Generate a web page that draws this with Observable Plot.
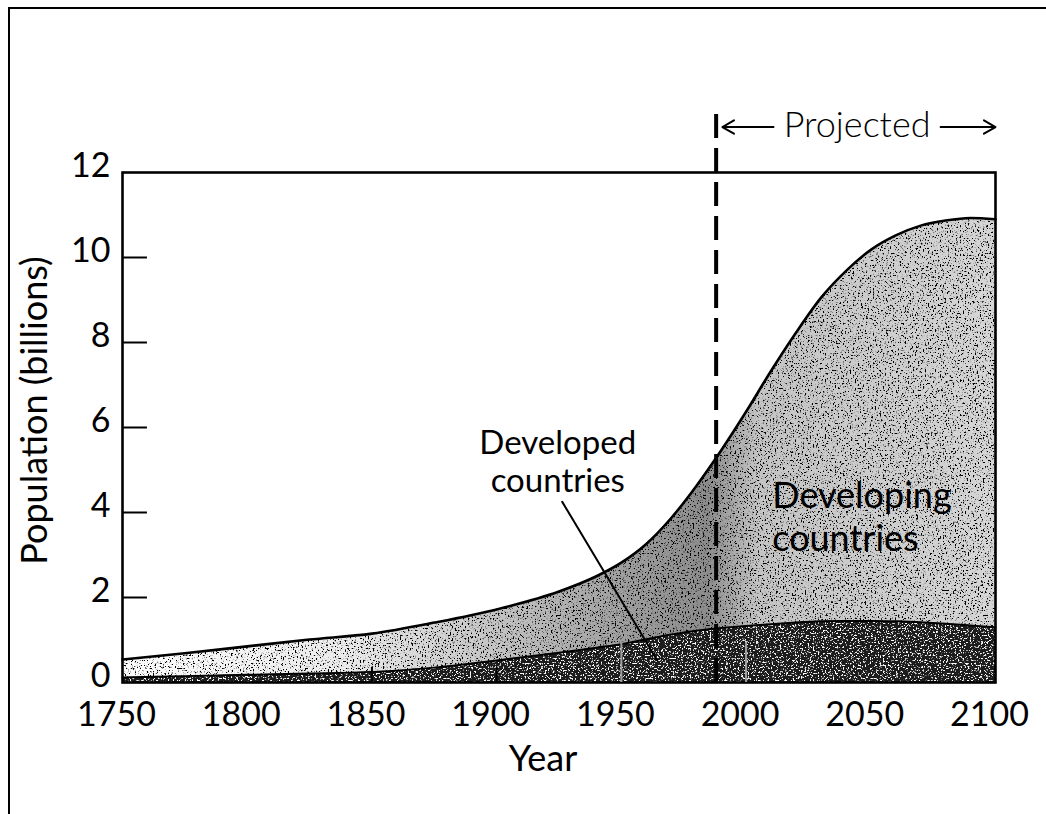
<!DOCTYPE html>
<html><head><meta charset="utf-8">
<script src="https://cdn.jsdelivr.net/npm/d3@7"></script>
<script src="https://cdn.jsdelivr.net/npm/@observablehq/plot@0.6"></script>
<style>
html,body{margin:0;padding:0;background:#fff;}
#page{position:relative;width:1046px;height:814px;overflow:hidden;background:#fff;}
#border{position:absolute;left:8px;top:7px;right:-4px;bottom:-4px;border-top:2px solid #000;border-left:2px solid #000;}
#chart{position:absolute;left:0;top:0;}
</style></head><body>
<div id="page"><div id="border"></div><div id="chart"></div></div>
<script>
// ---- data ----
const years     = [1750, 1775, 1800, 1825, 1850, 1875, 1900, 1925, 1940, 1950, 1960, 1970, 1980, 1990, 2000, 2010, 2020, 2030, 2040, 2050, 2060, 2070, 2080, 2090, 2100];
const total     = [0.54, 0.69, 0.85, 1.01, 1.15, 1.41, 1.72, 2.14, 2.50, 2.82, 3.26, 3.87, 4.62, 5.46, 6.37, 7.33, 8.23, 9.05, 9.68, 10.18, 10.52, 10.75, 10.87, 10.93, 10.90];
const developed = [0.12, 0.15, 0.18, 0.21, 0.25, 0.35, 0.52, 0.70, 0.82, 0.90, 1.02, 1.13, 1.22, 1.28, 1.33, 1.37, 1.41, 1.44, 1.45, 1.45, 1.44, 1.42, 1.38, 1.34, 1.30];
const xTicks = [1750, 1800, 1850, 1900, 1950, 2000, 2050, 2100];
const yTicks = [0, 2, 4, 6, 8, 10, 12];
const innerYTicks = [2, 4, 6, 8, 10];
const innerXTicks = [1850, 1900];
const innerXTicksLight = [1950, 2000];
const projectedYear = 1988;
const labels = {
  xTitle: "Year",
  yTitle: "Population (billions)",
  projected: "Projected",
  developed: "Developed\ncountries",
  developing: "Developing\ncountries"
};

const rows = years.map((year, i) => ({year, total: total[i], developed: developed[i]}));
const curve = "monotone-x";
const FONT = "Lato, 'Open Sans', sans-serif";

const chart = Plot.plot({
  width: 1046,
  height: 814,
  marginLeft: 122,
  marginRight: 51,
  marginTop: 172,
  marginBottom: 132,
  style: {fontFamily: FONT, background: "transparent", color: "#000"},
  x: {domain: [1750, 2100]},
  y: {domain: [0, 12]},
  marks: [
    Plot.areaY(rows, {x: "year", y1: "developed", y2: "total", fill: "url(#devgrad)", curve}),
    Plot.areaY(rows, {x: "year", y1: 0, y2: "developed", fill: "#1e1e1e", curve}),
    Plot.line(rows, {x: "year", y: "total", stroke: "#000", strokeWidth: 2.6, curve}),
    Plot.line(rows, {x: "year", y: "developed", stroke: "#000", strokeWidth: 2, curve}),
    Plot.frame({stroke: "#000", strokeWidth: 2.6}),
    Plot.axisX({ticks: xTicks, tickFormat: d => String(d), tickSize: 0, tickPadding: 19, fontSize: 34, label: null, dx: -6}),
    Plot.axisY({ticks: yTicks, tickFormat: d => String(d), tickSize: 0, tickPadding: 12, fontSize: 34, label: null, dy: -6}),
    // inward tick marks
    Plot.ruleY(innerYTicks, {y: d => d, x1: 1750, x2: 1760, stroke: "#000", strokeWidth: 2}),
    Plot.ruleX(innerXTicks, {x: d => d, y1: 0, y2: 0.36, stroke: "#000", strokeWidth: 2}),
    Plot.ruleX(innerXTicksLight, {x: d => d, y1: 0, y2: 0.95, stroke: "#a0a0a0", strokeWidth: 2}),
    Plot.ruleX([projectedYear], {y1: 0, y2: 13.45, stroke: "#000", strokeWidth: 4, strokeDasharray: "24,10"}),
    Plot.arrow([{x1: 2011, x2: 1990.5, y: 13.07}], {x1: "x1", x2: "x2", y1: "y", y2: "y", stroke: "#000", strokeWidth: 2, headLength: 10}),
    Plot.arrow([{x1: 2078, x2: 2100, y: 13.07}], {x1: "x1", x2: "x2", y1: "y", y2: "y", stroke: "#000", strokeWidth: 2, headLength: 10}),
    Plot.text([labels.projected], {x: 2044.5, y: 13.1, fontSize: 36, fontWeight: 300}),
    Plot.text([labels.developed], {x: 1924.5, y: 5.22, fontSize: 33, lineHeight: 1.14}),
    Plot.line([{x: 1926.3, y: 4.25}, {x: 1964.4, y: 0.52}], {x: "x", y: "y", stroke: "#000", strokeWidth: 2}),
    Plot.text([labels.developing], {x: 2010.5, y: 3.92, textAnchor: "start", fontSize: 36, lineHeight: 1.2}),
    Plot.text([labels.xTitle], {frameAnchor: "bottom", dy: 88, dx: -16, fontSize: 36}),
    Plot.text([labels.yTitle], {x: 1750, y: 6.4, dx: -87, rotate: -90, textAnchor: "middle", fontSize: 36})
  ]
});

// shading + stipple texture for the filled bands (built from the x scale)
const xs = chart.scale("x");
const svg = d3.select(chart);
const defs = svg.insert("defs", ":first-child");
const grad = defs.append("linearGradient")
  .attr("id", "devgrad")
  .attr("gradientUnits", "userSpaceOnUse")
  .attr("x1", xs.apply(1750)).attr("x2", xs.apply(2100))
  .attr("y1", 0).attr("y2", 0);
[[1750, "#fdfdfd"], [1840, "#ebebeb"], [1900, "#c4c4c4"], [1955, "#9c9c9c"], [1985, "#8c8c8c"], [2005, "#c4c4c4"], [2100, "#d6d6d6"]]
  .forEach(([yr, c]) => grad.append("stop").attr("offset", (yr - 1750) / 350).attr("stop-color", c));

function stipple(id, rgb, a, b, seed) {
  const f = defs.append("filter").attr("id", id);
  f.append("feTurbulence").attr("type", "fractalNoise").attr("baseFrequency", 0.6).attr("numOctaves", 2).attr("seed", seed).attr("result", "n");
  f.append("feColorMatrix").attr("in", "n").attr("type", "matrix")
    .attr("values", `0 0 0 0 ${rgb}  0 0 0 0 ${rgb}  0 0 0 0 ${rgb}  ${a} 0 0 0 ${b}`).attr("result", "dots");
  f.append("feComposite").attr("in", "dots").attr("in2", "SourceAlpha").attr("operator", "in").attr("result", "clip");
  const m = f.append("feMerge");
  m.append("feMergeNode").attr("in", "SourceGraphic");
  m.append("feMergeNode").attr("in", "clip");
}
stipple("stippleDark", 0, -9, 3.9, 3);
stipple("stippleLight", 1, -9, 3.8, 11);
svg.selectAll('[fill="url(#devgrad)"]').attr("filter", "url(#stippleDark)");
svg.selectAll('[fill="#1e1e1e"]').attr("filter", "url(#stippleLight)");

document.getElementById("chart").appendChild(chart);
</script>
</body></html>
